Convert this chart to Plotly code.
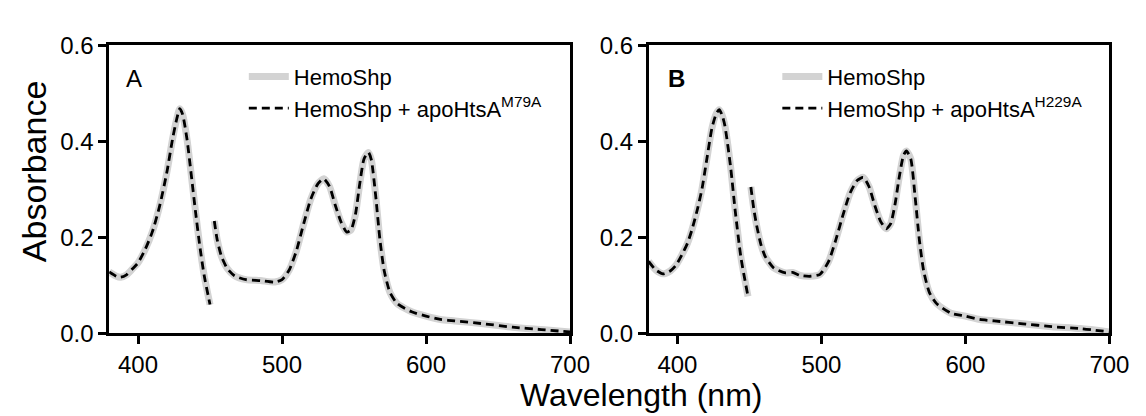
import plotly.graph_objects as go

# ---------------- data ----------------
# Panel A (HemoShp / HemoShp + apoHtsA M79A)
wl_a1 = [380, 385, 388, 392, 396, 400, 405, 410, 415, 420, 424, 427, 429, 431, 434, 437, 440, 443, 446, 450]
ab_a1 = [0.128, 0.119, 0.117, 0.122, 0.134, 0.147, 0.175, 0.212, 0.265, 0.335, 0.405, 0.448, 0.468, 0.456, 0.405, 0.330, 0.252, 0.180, 0.120, 0.060]
wl_a2 = [453, 455, 458, 462, 467, 475, 485, 495, 500, 505, 510, 515, 520, 525, 529, 533, 537, 541, 545, 548, 551, 554, 557, 560, 562, 565, 568, 571, 575, 580, 590, 600, 610, 620, 640, 660, 680, 700]
ab_a2 = [0.234, 0.195, 0.160, 0.135, 0.120, 0.112, 0.110, 0.107, 0.112, 0.132, 0.172, 0.228, 0.280, 0.312, 0.322, 0.306, 0.267, 0.232, 0.211, 0.216, 0.248, 0.312, 0.364, 0.377, 0.362, 0.288, 0.195, 0.130, 0.085, 0.062, 0.045, 0.036, 0.029, 0.026, 0.020, 0.013, 0.008, 0.003]

# Panel B (HemoShp / HemoShp + apoHtsA H229A)
wl_b1 = [380, 385, 390, 395, 399, 403, 407, 410, 414, 417, 420, 424, 427, 429, 431, 433, 437, 440, 444, 449]
ab_b1 = [0.150, 0.132, 0.124, 0.130, 0.142, 0.163, 0.188, 0.215, 0.260, 0.300, 0.355, 0.428, 0.458, 0.466, 0.455, 0.432, 0.345, 0.259, 0.160, 0.077]
wl_b2 = [451, 453, 455, 458, 461, 467, 475, 480, 485, 492, 499, 505, 510, 515, 520, 525, 529, 533, 537, 541, 545, 548, 551, 554, 557, 559, 562, 565, 568, 571, 575, 580, 590, 600, 610, 620, 640, 660, 680, 700]
ab_b2 = [0.305, 0.260, 0.225, 0.185, 0.160, 0.136, 0.126, 0.127, 0.121, 0.119, 0.123, 0.150, 0.195, 0.247, 0.293, 0.319, 0.325, 0.306, 0.267, 0.234, 0.218, 0.228, 0.267, 0.325, 0.371, 0.380, 0.364, 0.286, 0.195, 0.130, 0.085, 0.062, 0.042, 0.036, 0.029, 0.026, 0.020, 0.014, 0.010, 0.003]

x_ticks = [400, 500, 600, 700]
y_ticks = [0.0, 0.2, 0.4, 0.6]
legend_a = ["HemoShp", "HemoShp + apoHtsA<sup>M79A</sup>"]
legend_b = ["HemoShp", "HemoShp + apoHtsA<sup>H229A</sup>"]

# ---------------- figure ----------------
W, H = 1146, 416
FONT = "Arial, Liberation Sans, sans-serif"
GRAY = "#d3d3d3"

def join(x1, y1, x2, y2):
    return x1 + [None] + x2, y1 + [None] + y2

fig = go.Figure()
xa, ya = join(wl_a1, ab_a1, wl_a2, ab_a2)
xb, yb = join(wl_b1, ab_b1, wl_b2, ab_b2)

for (xs, ys, names, xaxis, yaxis, leg) in [
    (xa, ya, legend_a, "x", "y", "legend"),
    (xb, yb, legend_b, "x2", "y2", "legend2"),
]:
    fig.add_trace(go.Scatter(x=xs, y=ys, mode="lines", name=names[0],
                             line=dict(color=GRAY, width=7, shape="spline", smoothing=0.6),
                             connectgaps=False, xaxis=xaxis, yaxis=yaxis,
                             legend=leg, legendgroup=leg + "g1"))
    fig.add_trace(go.Scatter(x=xs, y=ys, mode="lines", name=names[1],
                             line=dict(color="black", width=2.8, dash="8px,5px", shape="spline", smoothing=0.6),
                             connectgaps=False, xaxis=xaxis, yaxis=yaxis,
                             legend=leg, legendgroup=leg + "g2"))

def px_x(p):
    return p / W

def px_y(p):
    return 1 - p / H

axis_common = dict(showline=True, linecolor="black", linewidth=2.5, mirror=True,
                   ticks="outside", ticklen=8, tickwidth=2.5, tickcolor="black",
                   showgrid=False, zeroline=False,
                   tickfont=dict(family=FONT, size=24, color="black"))

leg_common = dict(xanchor="left", yanchor="top", bgcolor="rgba(0,0,0,0)",
                  font=dict(family=FONT, size=22, color="black"),
                  itemwidth=40, tracegroupgap=0, traceorder="grouped")

fig.update_layout(
    width=W, height=H, autosize=False,
    margin=dict(l=0, r=0, t=0, b=0),
    paper_bgcolor="white", plot_bgcolor="white",
    xaxis=dict(domain=[px_x(103), px_x(572)], range=[380, 700], tickvals=x_ticks, anchor="y", **axis_common),
    yaxis=dict(domain=[px_y(333), px_y(25)], range=[0, 0.6], tickvals=y_ticks, tickformat=".1f", anchor="x", **axis_common),
    xaxis2=dict(domain=[px_x(652), px_x(1121)], range=[380, 700], tickvals=x_ticks, anchor="y2", **axis_common),
    yaxis2=dict(domain=[px_y(333), px_y(25)], range=[0, 0.6], tickvals=y_ticks, tickformat=".1f", anchor="x2", **axis_common),
    legend=dict(x=px_x(240), y=px_y(36), **leg_common),
    legend2=dict(x=px_x(783), y=px_y(36), **leg_common),
    showlegend=True,
)

ann_common = dict(xref="paper", yref="paper", showarrow=False, xanchor="center", yanchor="middle")
fig.add_annotation(text="A", x=px_x(128), y=px_y(60), font=dict(family=FONT, size=24, color="black"), **ann_common)
fig.add_annotation(text="<b>B</b>", x=px_x(680), y=px_y(60), font=dict(family=FONT, size=24, color="black"), **ann_common)
fig.add_annotation(text="Absorbance", x=px_x(26), y=px_y(160), textangle=-90,
                   font=dict(family=FONT, size=34, color="black"), **ann_common)
fig.add_annotation(text="Wavelength (nm)", x=px_x(644), y=px_y(399),
                   font=dict(family=FONT, size=32, color="black"), **ann_common)

fig.write_html("out.html")
